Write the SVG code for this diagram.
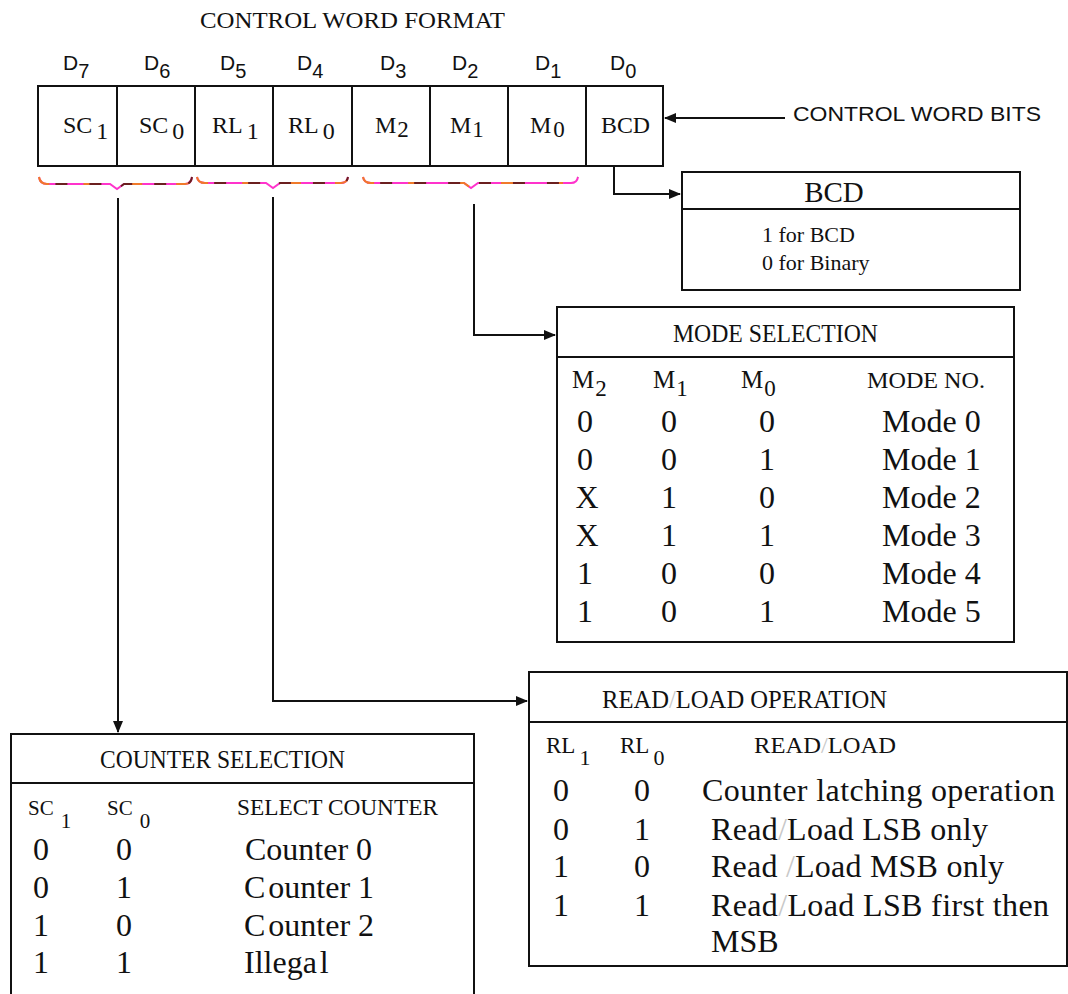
<svg xmlns="http://www.w3.org/2000/svg" width="1068" height="994" viewBox="0 0 1068 994">
<style>
  .bg { fill: #ffffff; }
  .box { fill: none; stroke: #111; stroke-width: 2; }
  .ln { fill: none; stroke: #111; stroke-width: 2; }
  .serif { font-family: "Liberation Serif", "Times New Roman", serif; fill: #111; }
  .sans { font-family: "Liberation Sans", Arial, sans-serif; fill: #111; }
  .hdr { font-size: 25px; }
  .row { font-size: 32px; }
  .mid { text-anchor: middle; }
  .brace1 { fill: none; stroke: #ff33cc; stroke-width: 2; }
  .brace2 { fill: none; stroke: #f07a2a; stroke-width: 2; stroke-dasharray: 14 34; }
  .brace3 { fill: none; stroke: #6b1f1f; stroke-width: 2; stroke-dasharray: 12 22; stroke-dashoffset: -20; }
  .faint { fill: #c8c8c8; }
</style>
<defs>
  <marker id="arr" markerWidth="12" markerHeight="10" refX="11" refY="5" orient="auto" markerUnits="userSpaceOnUse">
    <path d="M0,0 L12,5 L0,10 Z" fill="#111"/>
  </marker>
</defs>
<rect class="bg" x="0" y="0" width="1068" height="994"/>

<text class="serif" x="200" y="28" font-size="24" textLength="305" lengthAdjust="spacingAndGlyphs">CONTROL WORD FORMAT</text>

<g id="control-word">
  <rect class="box" x="38" y="86" width="625" height="80"/>
  <line class="ln" x1="117" y1="86" x2="117" y2="166"/>
  <line class="ln" x1="195" y1="86" x2="195" y2="166"/>
  <line class="ln" x1="273" y1="86" x2="273" y2="166"/>
  <line class="ln" x1="352" y1="86" x2="352" y2="166"/>
  <line class="ln" x1="430" y1="86" x2="430" y2="166"/>
  <line class="ln" x1="508" y1="86" x2="508" y2="166"/>
  <line class="ln" x1="586" y1="86" x2="586" y2="166"/>
  <g class="sans" font-size="21">
    <text x="63" y="70">D<tspan dy="8" font-size="20">7</tspan></text>
    <text x="144" y="70">D<tspan dy="8" font-size="20">6</tspan></text>
    <text x="220" y="70">D<tspan dy="8" font-size="20">5</tspan></text>
    <text x="297" y="70">D<tspan dy="8" font-size="20">4</tspan></text>
    <text x="380" y="70">D<tspan dy="8" font-size="20">3</tspan></text>
    <text x="452" y="70">D<tspan dy="8" font-size="20">2</tspan></text>
    <text x="535" y="70">D<tspan dy="8" font-size="20">1</tspan></text>
    <text x="610" y="70">D<tspan dy="8" font-size="20">0</tspan></text>
  </g>
  <g class="serif" font-size="24">
    <text x="63" y="133">SC<tspan dx="4" dy="6" font-size="24">1</tspan></text>
    <text x="139" y="133">SC<tspan dx="4" dy="6" font-size="24">0</tspan></text>
    <text x="212" y="133">RL<tspan dx="4" dy="6" font-size="24">1</tspan></text>
    <text x="288" y="133">RL<tspan dx="4" dy="6" font-size="24">0</tspan></text>
    <text x="375" y="133">M<tspan dx="1" dy="4" font-size="23">2</tspan></text>
    <text x="450" y="133">M<tspan dx="1" dy="4" font-size="23">1</tspan></text>
    <text x="530" y="133">M<tspan dx="2" dy="4" font-size="23">0</tspan></text>
    <text x="601" y="133" textLength="49" lengthAdjust="spacingAndGlyphs">BCD</text>
  </g>
</g>

<g id="braces">
  <path class="brace1" d="M39,177 Q40,184 47,184 L110,184 L117,189 L124,184 L185,184 Q191,184 192,177"/>
  <path class="brace2" d="M39,177 Q40,184 47,184 L110,184 L117,189 L124,184 L185,184 Q191,184 192,177"/>
  <path class="brace3" d="M39,177 Q40,184 47,184 L110,184 L117,189 L124,184 L185,184 Q191,184 192,177"/>
  <path class="brace1" d="M197,177 Q198,183 205,183 L266,183 L273,188 L280,183 L341,183 Q347,183 348,177"/>
  <path class="brace2" d="M197,177 Q198,183 205,183 L266,183 L273,188 L280,183 L341,183 Q347,183 348,177"/>
  <path class="brace3" d="M197,177 Q198,183 205,183 L266,183 L273,188 L280,183 L341,183 Q347,183 348,177"/>
  <path class="brace1" d="M363,177 Q364,183 371,183 L464,183 L471,188 L478,183 L571,183 Q577,183 578,177"/>
  <path class="brace2" d="M363,177 Q364,183 371,183 L464,183 L471,188 L478,183 L571,183 Q577,183 578,177"/>
  <path class="brace3" d="M363,177 Q364,183 371,183 L464,183 L471,188 L478,183 L571,183 Q577,183 578,177"/>
</g>

<g id="connectors">
  <line class="ln" x1="785" y1="118" x2="665" y2="118" marker-end="url(#arr)"/>
  <polyline class="ln" points="614,166 614,194 680,194" marker-end="url(#arr)"/>
  <polyline class="ln" points="474,204 474,335 555,335" marker-end="url(#arr)"/>
  <polyline class="ln" points="273,197 273,701 527,701" marker-end="url(#arr)"/>
  <line class="ln" x1="118" y1="198" x2="118" y2="732" marker-end="url(#arr)"/>
</g>

<g id="control-word-bits-label">
  <text class="sans" x="793" y="121" font-size="21" textLength="248" lengthAdjust="spacingAndGlyphs">CONTROL WORD BITS</text>
</g>

<g id="bcd-box">
  <rect class="box" x="682" y="172" width="338" height="118"/>
  <line class="ln" x1="682" y1="209" x2="1020" y2="209"/>
  <text class="serif mid" x="834" y="202" font-size="29">BCD</text>
  <text class="serif" x="762" y="242" font-size="22">1 for BCD</text>
  <text class="serif" x="762" y="270" font-size="22">0 for Binary</text>
</g>

<g id="mode-selection">
  <rect class="box" x="557" y="307" width="457" height="335"/>
  <line class="ln" x1="557" y1="357" x2="1014" y2="357"/>
  <text class="serif hdr" x="673" y="342" textLength="205" lengthAdjust="spacingAndGlyphs">MODE SELECTION</text>
  <g class="serif" font-size="25">
    <text x="572" y="388">M<tspan dx="1" dy="8" font-size="23">2</tspan></text>
    <text x="653" y="388">M<tspan dx="1" dy="8" font-size="23">1</tspan></text>
    <text x="741" y="388">M<tspan dx="1" dy="8" font-size="23">0</tspan></text>
  </g>
  <text class="serif" x="867" y="388" font-size="24" textLength="118" lengthAdjust="spacingAndGlyphs">MODE NO.</text>
  <g class="serif row">
    <text class="mid" x="585" y="432">0</text><text class="mid" x="669" y="432">0</text><text class="mid" x="767" y="432">0</text><text x="882" y="432">Mode 0</text>
    <text class="mid" x="585" y="470">0</text><text class="mid" x="669" y="470">0</text><text class="mid" x="767" y="470">1</text><text x="882" y="470">Mode 1</text>
    <text class="mid" x="587" y="508">X</text><text class="mid" x="669" y="508">1</text><text class="mid" x="767" y="508">0</text><text x="882" y="508">Mode 2</text>
    <text class="mid" x="587" y="546">X</text><text class="mid" x="669" y="546">1</text><text class="mid" x="767" y="546">1</text><text x="882" y="546">Mode 3</text>
    <text class="mid" x="585" y="584">1</text><text class="mid" x="669" y="584">0</text><text class="mid" x="767" y="584">0</text><text x="882" y="584">Mode 4</text>
    <text class="mid" x="585" y="622">1</text><text class="mid" x="669" y="622">0</text><text class="mid" x="767" y="622">1</text><text x="882" y="622">Mode 5</text>
  </g>
</g>

<g id="read-load-operation">
  <path class="box" d="M1067,672 L529,672 L529,966 L1067,966 Z"/>
  <line class="ln" x1="529" y1="722" x2="1067" y2="722"/>
  <text class="serif hdr" x="602" y="708" textLength="285" lengthAdjust="spacingAndGlyphs">READ<tspan class="faint">/</tspan>LOAD OPERATION</text>
  <g class="serif" font-size="23">
    <text x="546" y="753">RL<tspan dx="4" dy="12" font-size="22">1</tspan></text>
    <text x="620" y="753">RL<tspan dx="4" dy="12" font-size="22">0</tspan></text>
    <text x="754" y="753" textLength="142" lengthAdjust="spacingAndGlyphs">READ<tspan class="faint">/</tspan>LOAD</text>
  </g>
  <g class="serif row">
    <text class="mid" x="561" y="801">0</text><text class="mid" x="642" y="801">0</text>
    <text x="702" y="801" textLength="353" lengthAdjust="spacing">Counter latching operation</text>
    <text class="mid" x="561" y="840">0</text><text class="mid" x="642" y="840">1</text>
    <text x="711" y="840" textLength="277" lengthAdjust="spacing">Read<tspan class="faint">/</tspan>Load LSB only</text>
    <text class="mid" x="561" y="877">1</text><text class="mid" x="642" y="877">0</text>
    <text x="711" y="877" textLength="293" lengthAdjust="spacing">Read <tspan class="faint">/</tspan>Load MSB only</text>
    <text class="mid" x="561" y="916">1</text><text class="mid" x="642" y="916">1</text>
    <text x="711" y="916" textLength="338" lengthAdjust="spacing">Read<tspan class="faint">/</tspan>Load LSB first then</text>
    <text x="711" y="952">MSB</text>
  </g>
</g>

<g id="counter-selection">
  <path class="box" d="M11,995 L11,734 L474,734 L474,995"/>
  <line class="ln" x1="11" y1="783" x2="474" y2="783"/>
  <text class="serif hdr" x="100" y="768" textLength="245" lengthAdjust="spacingAndGlyphs">COUNTER SELECTION</text>
  <g class="serif" font-size="21">
    <text x="28" y="815">SC<tspan dx="7" dy="13" font-size="21">1</tspan></text>
    <text x="107" y="815">SC<tspan dx="7" dy="13" font-size="21">0</tspan></text>
  </g>
  <text class="serif" x="237" y="815" font-size="24" textLength="201" lengthAdjust="spacingAndGlyphs">SELECT COUNTER</text>
  <g class="serif row">
    <text class="mid" x="41" y="860">0</text><text class="mid" x="124" y="860">0</text><text x="245" y="860">Counter 0</text>
    <text class="mid" x="41" y="898">0</text><text class="mid" x="124" y="898">1</text><text x="244" y="898">C<tspan dx="3">ounter 1</tspan></text>
    <text class="mid" x="41" y="936">1</text><text class="mid" x="124" y="936">0</text><text x="244" y="936">C<tspan dx="3">ounter 2</tspan></text>
    <text class="mid" x="41" y="973">1</text><text class="mid" x="124" y="973">1</text><text x="244" y="973">Illega<tspan dx="3">l</tspan></text>
  </g>
</g>
</svg>
